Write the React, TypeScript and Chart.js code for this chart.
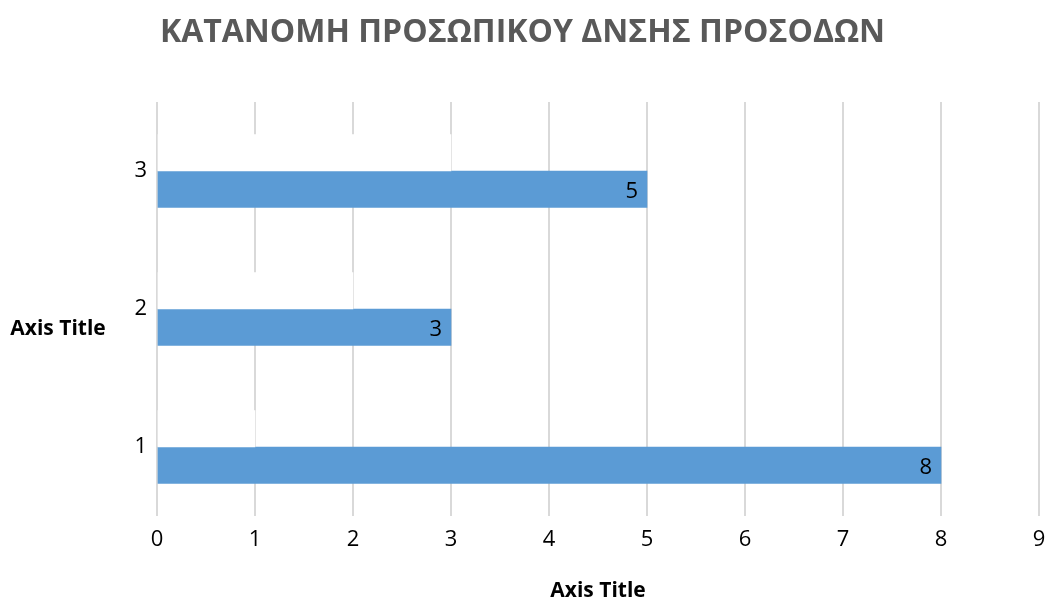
import React, { useEffect, useRef } from "react";
import { Chart, registerables } from "chart.js";

Chart.register(...registerables);

const categories = ["1", "2", "3"];
const indexSeries = [1, 2, 3];
const staffValues = [8, 3, 5];
const xTicks = [0, 1, 2, 3, 4, 5, 6, 7, 8, 9];
const chartTitle = "ΚΑΤΑΝΟΜΗ ΠΡΟΣΩΠΙΚΟΥ ΔΝΣΗΣ ΠΡΟΣΟΔΩΝ";
const xAxisTitle = "Axis Title";
const yAxisTitle = "Axis Title";

const FONT = "'Open Sans', 'DejaVu Sans', sans-serif";

const extrasPlugin = {
  id: "extras",
  afterDatasetsDraw(chart: any) {
    const ctx = chart.ctx;
    const meta = chart.getDatasetMeta(1);
    ctx.save();
    ctx.font = `22px ${FONT}`;
    ctx.fillStyle = "#000000";
    ctx.textAlign = "right";
    ctx.textBaseline = "middle";
    meta.data.forEach((bar: any, i: number) => {
      ctx.fillText(String(staffValues[i]), bar.x - 9, bar.y + 2);
    });
    ctx.restore();
  },
  afterDraw(chart: any) {
    const ctx = chart.ctx;
    ctx.save();
    ctx.font = `bold 21px ${FONT}`;
    ctx.fillStyle = "#000000";
    ctx.textAlign = "center";
    ctx.textBaseline = "middle";
    ctx.fillText(yAxisTitle, 58, 329);
    ctx.restore();
  },
};

export default function App() {
  const ref = useRef<HTMLCanvasElement | null>(null);
  useEffect(() => {
    if (!ref.current) return;
    const chart = new Chart(ref.current, {
      type: "bar",
      data: {
        labels: categories,
        datasets: [
          {
            label: "Index",
            data: indexSeries,
            backgroundColor: "#ffffff",
            borderWidth: 0,
          },
          {
            label: "Staff",
            data: staffValues,
            backgroundColor: "#5b9bd5",
            borderWidth: 0,
          },
        ],
      },
      options: {
        indexAxis: "y",
        responsive: false,
        animation: false,
        layout: { padding: { left: 0, right: 0, top: 0, bottom: 0 } },
        datasets: { bar: { barThickness: 36.5 } } as any,
        plugins: {
          legend: { display: false },
          tooltip: { enabled: false },
          title: {
            display: true,
            text: chartTitle,
            color: "#595959",
            font: { family: FONT, size: 32, weight: "bold", lineHeight: 1.2 },
            padding: { top: 14, bottom: 49.6 },
          },
        },
        scales: {
          x: {
            type: "linear",
            min: 0,
            max: 9,
            afterBuildTicks: (scale: any) => {
              scale.ticks = xTicks.map((v) => ({ value: v }));
            },
            afterFit: (scale: any) => {
              scale.height = 86;
              scale.paddingLeft = 0;
              scale.paddingRight = 6;
            },
            grid: { color: "#d9d9d9", lineWidth: 2, drawTicks: false },
            border: { display: false },
            ticks: {
              color: "#000000",
              font: { family: FONT, size: 22 },
              padding: 11,
            },
            title: {
              display: true,
              text: xAxisTitle,
              color: "#000000",
              font: { family: FONT, size: 21, weight: "bold", lineHeight: 1.05 },
              padding: { top: 0, bottom: 0 },
            },
          },
          y: {
            type: "category",
            reverse: true,
            afterFit: (scale: any) => {
              scale.width = 157;
              scale.paddingTop = 0;
              scale.paddingBottom = 0;
            },
            grid: { display: false, drawTicks: false },
            border: { display: false },
            ticks: {
              color: "#000000",
              font: { family: FONT, size: 22 },
              padding: 10,
            },
          },
        },
      },
      plugins: [extrasPlugin],
    });
    return () => chart.destroy();
  }, []);
  return (
    <div style={{ position: "absolute", left: 0, top: 0, width: 1045, height: 602, background: "#ffffff" }}>
      <canvas ref={ref} width={1045} height={602} />
    </div>
  );
}
